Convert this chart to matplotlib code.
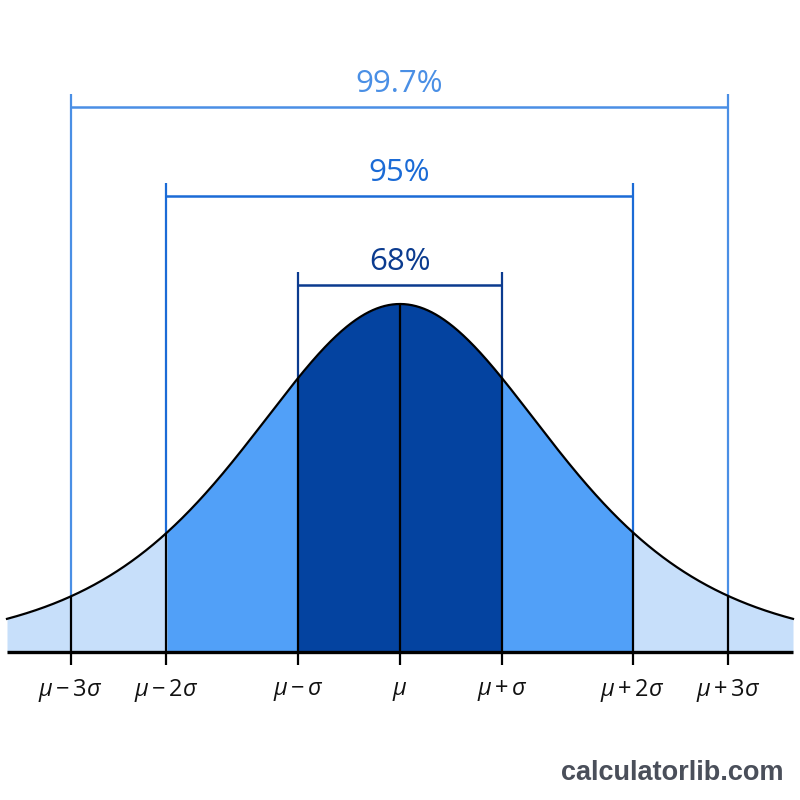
import numpy as np
import matplotlib
matplotlib.use("Agg")
import matplotlib.pyplot as plt

plt.rcParams["mathtext.fontset"] = "custom"
plt.rcParams["mathtext.it"] = "Open Sans:italic"
plt.rcParams["mathtext.rm"] = "Open Sans"

# tick positions (in sigma units) and labels
tick_pos = [-3.23, -2.29, -1.0, 0.0, 1.0, 2.28, 3.22]
tick_labels = [r"$\mu\,{-}\,3\sigma$", r"$\mu\,{-}\,2\sigma$", r"$\mu\,{-}\,\sigma$", r"$\mu$",
               r"$\mu\,{+}\,\sigma$", r"$\mu\,{+}\,2\sigma$", r"$\mu\,{+}\,3\sigma$"]

# bell shape parameters (peak height, width, tail weight)
peak = 1.0
scale = 1.5625
dof = 4.5
x_edge = 3.853

# brackets: label, span, line level
bracket_labels = ["68%", "95%", "99.7%"]
bracket_lo = [-1.0, -2.29, -3.23]
bracket_hi = [1.0, 2.28, 3.22]
bracket_level = [1.055, 1.310, 1.566]
bracket_colors = ["#0b3b8f", "#1b6bd6", "#4a8fe5"]

# band fills
fill_light = "#c7dffa"
fill_mid = "#51a0f8"
fill_dark = "#0443a0"


def bell(x):
    return peak * (1 + x ** 2 / (dof * scale ** 2)) ** (-(dof + 1) / 2)


fig = plt.figure(figsize=(8, 8), dpi=100)
ax = fig.add_axes([0, 0, 1, 1])
ax.set_xlim(-400 / 102, 400 / 102)
ax.set_ylim(-148 / 348, 652 / 348)
ax.axis("off")

xs = np.linspace(-x_edge, x_edge, 1200)
ys = bell(xs)

# fills
ax.fill_between(xs, 0, ys, color=fill_light, lw=0)
m = (xs >= tick_pos[1]) & (xs <= tick_pos[5])
ax.fill_between(xs[m], 0, ys[m], color=fill_mid, lw=0)
m = (xs >= tick_pos[2]) & (xs <= tick_pos[4])
ax.fill_between(xs[m], 0, ys[m], color=fill_dark, lw=0)

# brackets
tick_len = 13 / 348
for lab, lo, hi, lvl, col in zip(bracket_labels, bracket_lo, bracket_hi,
                                 bracket_level, bracket_colors):
    top = lvl + 0.037
    for xv in (lo, hi):
        ax.plot([xv, xv], [bell(xv), top], color=col, lw=1.6, solid_capstyle="butt")
    ax.plot([lo, hi], [lvl, lvl], color=col, lw=1.8, solid_capstyle="butt")
    ax.text((lo + hi) / 2, lvl + 0.066, lab, color=col, fontsize=22.5,
            family="Open Sans", ha="center", va="center")

# black dividers inside the bell, plus ticks below baseline
for xv in tick_pos:
    ax.plot([xv, xv], [-tick_len, bell(xv)], color="black", lw=1.6,
            solid_capstyle="butt")

ax.plot(xs, ys, color="black", lw=1.6)
ax.plot([-x_edge, x_edge], [0, 0], color="black", lw=2.4, solid_capstyle="butt")

for xv, lab in zip(tick_pos, tick_labels):
    ax.text(xv, -0.112, lab, fontsize=17, ha="center", va="center", color="#111111")

fig.text(0.84, 0.034, "calculatorlib.com", fontsize=19.5, family="Liberation Sans",
         weight="bold", color="#4a4f5a", ha="center", va="center")

fig.savefig("out.png", dpi=100)
